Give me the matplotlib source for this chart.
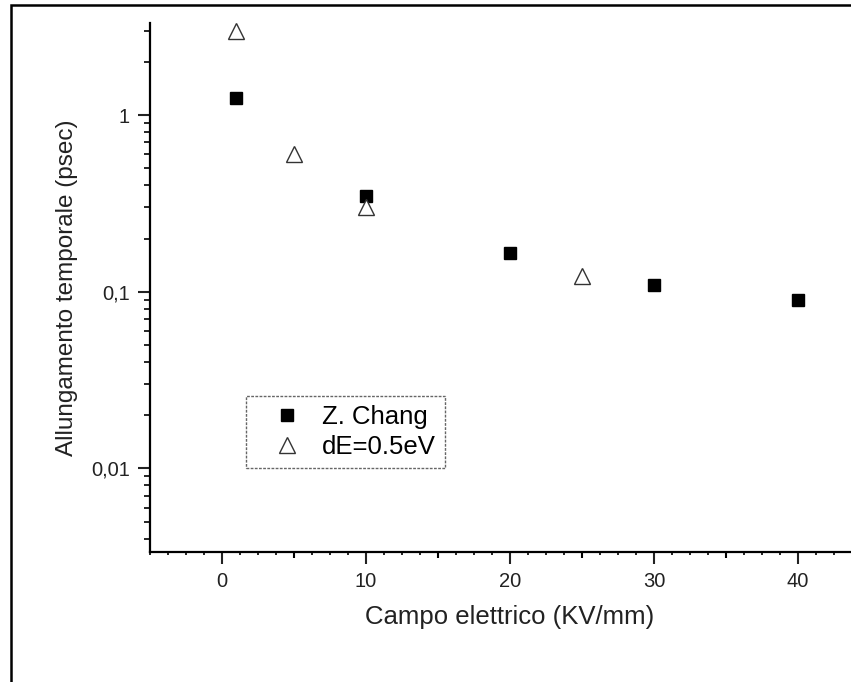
import matplotlib
matplotlib.use("Agg")
import matplotlib.pyplot as plt
from matplotlib.patches import Rectangle
from matplotlib.ticker import MultipleLocator, LogLocator, NullFormatter

# data
chang_x = [1, 10, 20, 30, 40]
chang_y = [1.25, 0.35, 0.165, 0.109, 0.09]
de_x = [1, 5, 10, 25]
de_y = [3.0, 0.6, 0.30, 0.122]

ytick_vals = [0.01, 0.1, 1]
ytick_labels = ["0,01", "0,1", "1"]
xtick_vals = [0, 10, 20, 30, 40]

plt.rcParams['font.family'] = ['Liberation Sans', 'DejaVu Sans']

W, H = 851, 682
fig = plt.figure(figsize=(W / 100, H / 100), dpi=100)

# axes placed in pixels: left spine at x=150, bottom at y=552, top at y=23, right at x=870
ax = fig.add_axes([150 / W, (H - 552) / H, 720 / W, (552 - 23) / H])

ax.plot(chang_x, chang_y, linestyle='none', marker='s', markersize=9,
        color='black', label='Z. Chang')
ax.plot(de_x, de_y, linestyle='none', marker='^', markersize=11,
        markerfacecolor='white', markeredgecolor='#333333', markeredgewidth=1.0,
        label='dE=0.5eV')

ax.set_yscale('log')
ax.set_xlim(-5, 45)
ax.set_ylim(0.00336, 3.32)

ax.set_yticks(ytick_vals)
ax.set_yticklabels(ytick_labels)
ax.yaxis.set_minor_locator(LogLocator(base=10, subs=range(2, 10)))
ax.yaxis.set_minor_formatter(NullFormatter())

ax.set_xticks(xtick_vals)
ax.xaxis.set_minor_locator(MultipleLocator(1.25))

for s in ['top', 'right']:
    ax.spines[s].set_visible(False)
for s in ['left', 'bottom']:
    ax.spines[s].set_linewidth(1.6)

ax.tick_params(which='major', direction='out', length=8.5, width=1.5,
               labelsize=14.5, pad=6, colors='#222222')
ax.tick_params(which='minor', direction='out', length=4, width=1.2)
ax.tick_params(axis='x', which='minor', length=2)

# medium ticks at the half decades of the x axis
sec = ax.secondary_xaxis('bottom')
sec.spines['bottom'].set_visible(False)
sec.set_xticks([5, 15, 25, 35])
sec.set_xticklabels([])
sec.tick_params(direction='out', length=4.5, width=1.5)

ax.set_xlabel('Campo elettrico (KV/mm)', fontsize=18.5, color='#222222', labelpad=10)
ax.set_ylabel('Allungamento temporale (psec)', fontsize=17.5, color='#222222', labelpad=9)

leg = ax.legend(loc='upper left', bbox_to_anchor=(246 / W, 1 - 396 / H),
                bbox_transform=fig.transFigure, borderaxespad=0, fancybox=False,
                fontsize=18.5, handletextpad=0.12, handlelength=2.5,
                borderpad=0.35, labelspacing=0.25, framealpha=1)
leg.get_frame().set_edgecolor('#666666')
leg.get_frame().set_linestyle((0, (2, 1)))
leg.get_frame().set_linewidth(1.0)

# outer frame of the original page, cut by the crop on the right and bottom
fig.patches.append(Rectangle((10.5 / W, -0.1), 1.2, 1.1 - 5.2 / H,
                             transform=fig.transFigure, fill=False,
                             edgecolor='black', linewidth=1.8))

fig.savefig('out.png', dpi=100)
